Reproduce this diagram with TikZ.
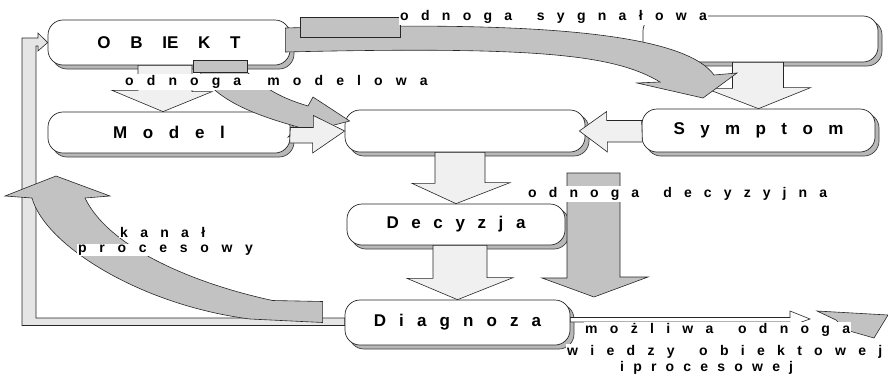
\documentclass[tikz,border=0pt]{standalone}
\usepackage{fontspec}
\setmainfont{Liberation Sans}
\usetikzlibrary{shadows}

\tikzset{
    blok/.style={draw=black!85, line width=0.7pt, fill=white, rounded corners=15pt, inner sep=0pt,
        drop shadow={shadow xshift=4pt, shadow yshift=-4pt, fill=black!28, draw=black!75, opacity=1}},
    tekst/.style={font={\fontsize{17}{20}\selectfont\bfseries\spaceskip=#1\relax}},
    tekst/.default=14pt,
    opis/.style={font={\fontsize{14}{16}\selectfont\bfseries\spaceskip=#1\relax}, fill=white, inner sep=1pt, anchor=west},
    opis/.default=12.3pt,
    jasna/.style={draw=black!85, line width=0.6pt, fill=black!6},
    szara/.style={draw=black!85, line width=0.6pt, fill=black!24},
    petla/.style={draw=black!85, line width=0.6pt, fill=black!10}
}

\begin{document}
\begin{tikzpicture}[x=1pt, y=-1pt]
    \useasboundingbox (0,0) rectangle (888,378);

    % Boxes
    \node[blok, tekst=19.7pt, minimum width=242pt, minimum height=45pt] (obiekt) at (169,42.5) {O B IE K T};
    \node[blok, tekst=15.7pt, minimum width=242pt, minimum height=41pt] (model) at (169,132.5) {M o d e l};
    \node[blok, minimum width=235pt, minimum height=46pt] (sygnal) at (760.5,39) {};
    \node[blok, minimum width=240pt, minimum height=42pt] (srodek) at (465,131) {};
    \node[blok, tekst=15.4pt, minimum width=233pt, minimum height=43pt] (symptom) at (758.5,130.5) {S y m p t o m};
    \node[blok, tekst=12.6pt, minimum width=218pt, minimum height=41pt] (decyzja) at (456,224.5) {D e c y z j a};
    \node[blok, tekst=13.1pt, minimum width=225pt, minimum height=45pt] (diagnoza) at (457.5,322.5) {D i a g n o z a};

    % Free ends of the wide arrows
    \coordinate (kanal) at (56,176);
    \coordinate (syg-tip) at (703,98);
    \coordinate (dec-tip) at (594,297);
    \coordinate (moz-tip) at (810,319);

    % Feedback loop Diagnoza -> OBIEKT
    \draw[petla] ([yshift=-3pt]diagnoza.west) -- (22,325.5) -- (22,38) -- (38,38) -- (38,33) -- (obiekt.west)
        -- (38,51) -- (38,46) -- (36,46) -- (36,318) -- ([yshift=4.5pt]diagnoza.west) -- cycle;

    % kanal procesowy
    \draw[szara] ([xshift=-22pt]diagnoza.west) -- ++(0,-21) -- ++(-50,-1) .. controls (200,285) and (110,250) .. (85,198)
        -- (110,196) -- (kanal) -- (5,196) -- (32,198) .. controls (45,245) and (140,305) .. (250,319) -- cycle;

    % Light block arrows
    \draw[jasna] (obiekt.south) ++(-31,0) -- ++(0,25) -- ++(-26,0) -- ([xshift=-6pt]model.north)
        -- ++(49,-20) -- ++(-20,0) |- (obiekt.south) -- cycle;
    \draw[jasna] (sygnal.south) ++(-28,0) -- ++(0,26) -- ++(-27,0) -- (symptom.north)
        -- ++(52,-21) -- ++(-27,0) |- (sygnal.south) -- cycle;
    \draw[jasna] (symptom.west) ++(0,-10) -- ++(-35,0) -- ++(0,-9) -- ([xshift=-6pt]srodek.east)
        -- ++(28,21) -- ++(0,-10) -- ++(35,0) -- cycle;
    \draw[jasna] (srodek.south) ++(-30,0) -- ++(0,31) -- ++(-23,0) -- (decyzja.north)
        -- ++(54,-21) -- ++(-25,0) |- (srodek.south) -- cycle;
    \draw[jasna] (decyzja.south) ++(-23,0) -- ++(0,33) -- ++(-26,0) -- (diagnoza.north)
        -- ++(55.5,-22) -- ++(-26,0) |- (decyzja.south) -- cycle;

    % odnoga sygnalowa
    \draw[szara] ([xshift=-5pt,yshift=14.5pt]obiekt.east) .. controls (500,22) and (680,28) .. (714,75)
        -- (737,73) -- (syg-tip) -- (637,83) -- (660,82) .. controls (615,55) and (540,46) .. ([xshift=-5pt,yshift=-9.5pt]obiekt.east) -- cycle;
    \draw[szara] (300,17) rectangle (400,37);

    % odnoga modelowa
    \draw[szara] (200,72) -- (247,72) .. controls (268,92) and (288,100) .. (308,106) -- (313,97)
        -- ([xshift=5pt,yshift=10pt]srodek.west) -- (288,137) -- (298,127) .. controls (255,115) and (215,100) .. (200,72) -- cycle;
    \draw[szara] (193,60) rectangle (247,72);
    \draw[jasna] (model.east) ++(0,-5) -- ++(23,0) -- ++(0,-12) -- (srodek.west)
        -- ++(-32,22) -- ++(0,-10) -- ++(-23,0) -- cycle;

    % odnoga decyzyjna
    \draw[szara] (567,173) -- (620,173) -- (620,277) -- (648,277) -- (dec-tip) -- (542,278) -- (567,278) -- cycle;

    % mozliwa odnoga
    \draw[jasna, fill=white] ([yshift=5pt]diagnoza.east) -- (790,317.5) -- (790,311) -- (moz-tip)
        -- (790,326) -- (790,322) -- ([yshift=0.5pt]diagnoza.east) -- cycle;
    \draw[szara] (817,311) -- (888,315) -- (874,338) -- (846,330) -- (836,320) -- cycle;

    % Labels
    \node[opis] (l-syg) at (399,17) {o d n o g a \ s y g n a ł o w a};
    \node[opis=13.1pt] (l-mod) at (124,82) {o d n o g a \ m o d e l o w a};
    \node[opis=12.1pt] (l-dec) at (527,194) {o d n o g a \ d e c y z y j n a};
    \node[opis] (l-kan) at (119,232) {k a n a ł};
    \node[opis=12.7pt] (l-proc) at (77,250) {p r o c e s o w y};
    \node[opis] (l-moz) at (584,330) {m o ż l i w a \ o d n o g a};
    \node[opis] (l-wie) at (566,352) {w i e d z y \ o b i e k t o w e j};
    \node[opis=9.2pt] (l-pro) at (619,368) {i p r o c e s o w e j};
\end{tikzpicture}
\end{document}
